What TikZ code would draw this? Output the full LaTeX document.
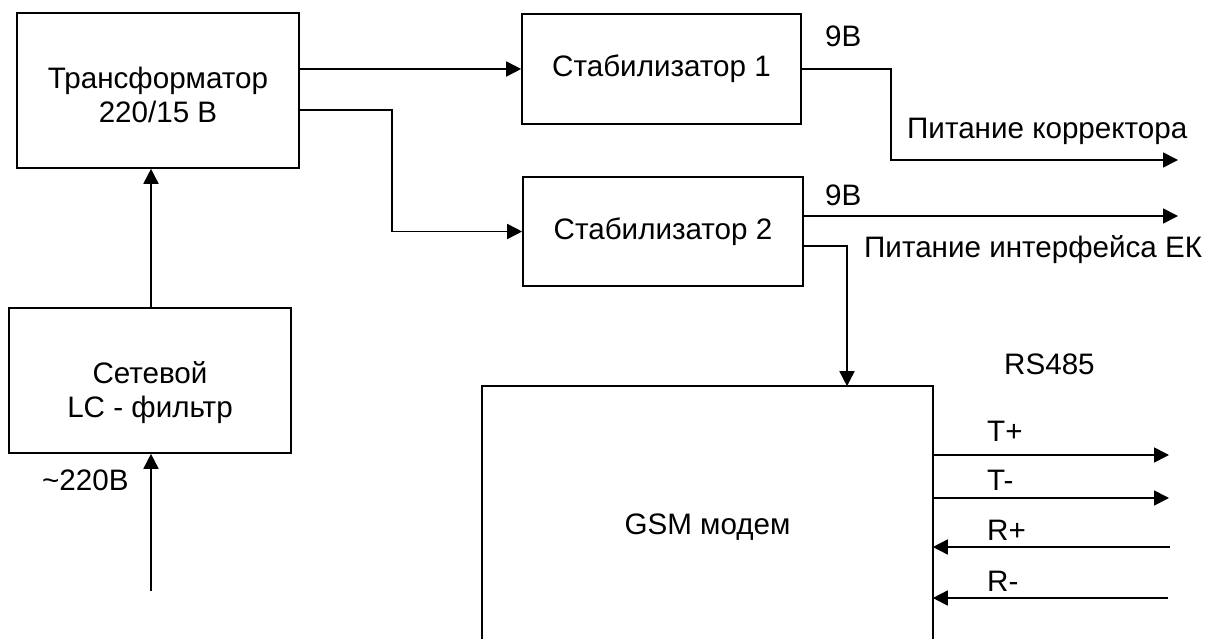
\documentclass[tikz,border=0pt]{standalone}
\usepackage{fontspec}
\setmainfont{Liberation Sans}
\usetikzlibrary{arrows.meta}
\begin{document}
\begin{tikzpicture}[x=1pt,y=-1pt,
  box/.style={draw,line width=1.6pt,inner sep=0pt,align=center,font=\fontsize{29.6}{34}\selectfont},
  txt/.style={inner sep=0pt,align=center,font=\fontsize{29.6}{34}\selectfont},
  conn/.style={line width=1.6pt},
  arr/.style={conn,-{Triangle[length=15pt,width=15pt]}},
  lbl/.style={inner sep=0pt,anchor=base west,font=\fontsize{29.6}{34}\selectfont}]
\useasboundingbox (0,0) rectangle (1212,639);
% boxes
\node[box,minimum width=282pt,minimum height=155pt] (trans) at (158,90.5) {};
\node[txt] (transtext) at ([yshift=-4.5pt]trans.center) {Трансформатор\\220/15 В};
\node[box,minimum width=282pt,minimum height=145pt] (lc) at (150,380.5) {};
\node[txt] (lctext) at ([yshift=-12pt]lc.center) {Сетевой\\LC - фильтр};
\node[box,minimum width=279pt,minimum height=110pt] (stab1) at (661.5,69) {Стабилизатор 1};
\node[box,minimum width=280pt,minimum height=109pt] (stab2) at (663,231.5) {Стабилизатор 2};
\node[box,draw=none,minimum width=449pt,minimum height=280pt] (gsm) at (707.5,527) {GSM модем};
\draw[line width=1.6pt] (gsm.west |- 0,641) -- (gsm.north west) -- (gsm.north east) -- (gsm.east |- 0,641);
% coordinates
\coordinate (in) at (151,591);
\coordinate (o1) at (1178,160);
\coordinate (o2) at (1178,216);
\coordinate (tp) at (1169,455);
\coordinate (tm) at (1169,498);
\coordinate (rp) at (1170,547);
\coordinate (rm) at (1168,598);
\coordinate (bend1) at (392,110);
\coordinate (bend2) at (891,69);
\coordinate (bend3) at (847,246);
% connectors
\draw[arr] (in) -- (in |- lc.south);
\draw[arr] (in |- lc.north) -- (in |- trans.south);
\draw[arr] (trans.east |- stab1.west) -- (stab1.west);
\draw[arr] (trans.east |- bend1) -- (bend1) |- (stab2.west);
\draw[arr] (stab1.east) -- (bend2) |- (o1);
\draw[arr] (stab2.east |- o2) -- (o2);
\draw[arr] (stab2.east |- bend3) -- (bend3) -- (bend3 |- gsm.north);
\draw[arr] (gsm.east |- tp) -- (tp);
\draw[arr] (gsm.east |- tm) -- (tm);
\draw[arr] (rp) -- (gsm.east |- rp);
\draw[arr] (rm) -- (gsm.east |- rm);
% labels
\node[lbl] (v1) at (825,47) {9В};
\node[lbl] (v2) at (825,206) {9В};
\node[lbl] (p1) at (907,139) {Питание корректора};
\node[lbl] (p2) at (864,257) {Питание интерфейса ЕК};
\node[lbl] (rs) at (1004,374) {RS485};
\node[lbl] (ltp) at (987,441) {T+};
\node[lbl] (ltm) at (987,490) {T-};
\node[lbl] (lrp) at (987,540) {R+};
\node[lbl] (lrm) at (987,591) {R-};
\node[lbl] (ac) at (42,490) {\textasciitilde220В};
\end{tikzpicture}
\end{document}
